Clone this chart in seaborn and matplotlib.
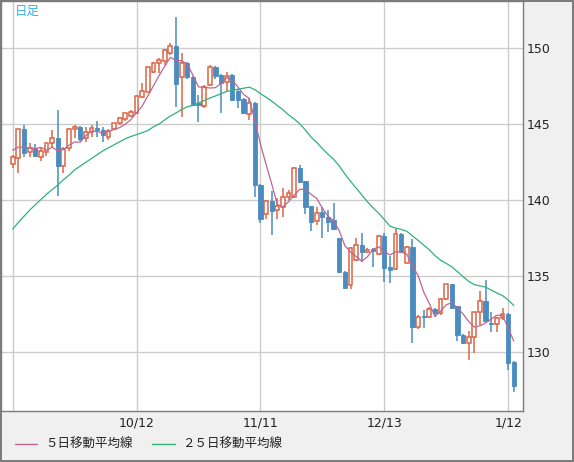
import numpy as np
import pandas as pd
import matplotlib
matplotlib.use('Agg')
import matplotlib.pyplot as plt
from matplotlib.lines import Line2D
import seaborn as sns

# daily candles, index 0 = first bar
opens = [142.37, 142.76, 144.67, 143.16, 143.46, 142.87, 143.20, 143.75, 144.08, 142.28,
         143.46, 144.67, 144.80, 144.08, 144.50, 144.75, 144.62, 144.19, 144.69, 145.11,
         145.33, 145.55, 145.77, 146.82, 147.15, 148.46, 149.01, 149.19, 149.71, 150.15,
         148.09, 149.05, 148.13, 146.38, 146.18, 147.59, 148.79, 148.24, 147.80, 148.24,
         147.20, 146.65, 145.66, 146.38, 141.01, 139.08, 139.97, 139.36, 139.58, 140.20,
         140.24, 142.11, 141.27, 139.62, 138.64, 139.25, 138.92, 138.70, 137.50, 135.30,
         134.43, 136.07, 137.06, 136.58, 136.77, 136.45, 137.65, 135.63, 135.45, 137.76,
         135.86, 136.95, 131.68, 132.39, 132.30, 132.83, 132.57, 133.49, 134.47, 133.04,
         131.14, 130.59, 130.99, 132.63, 133.39, 131.95, 131.86, 132.24, 132.52, 129.38]
highs = [143.00, 144.70, 144.95, 143.79, 143.68, 143.53, 143.79, 144.63, 145.94, 143.53,
         144.74, 144.95, 144.89, 144.84, 144.95, 145.22, 144.84, 144.67, 145.10, 145.50,
         145.77, 145.94, 146.93, 147.74, 148.79, 149.12, 149.34, 149.93, 150.33, 152.04,
         149.67, 149.12, 148.20, 146.93, 147.59, 148.90, 148.85, 148.30, 148.46, 148.30,
         147.30, 146.70, 146.75, 146.49, 141.05, 140.00, 140.63, 140.13, 140.79, 140.68,
         142.21, 142.32, 141.27, 139.62, 139.58, 139.58, 139.36, 139.84, 137.50, 135.35,
         136.95, 137.50, 137.83, 136.84, 136.84, 137.72, 137.83, 136.34, 138.09, 137.83,
         136.99, 137.43, 132.45, 132.78, 132.96, 132.90, 133.56, 134.50, 134.50, 133.04,
         131.20, 131.40, 132.63, 134.05, 134.76, 132.63, 132.35, 132.89, 132.60, 129.40]
lows = [142.14, 141.78, 142.83, 142.83, 142.87, 142.59, 142.94, 143.42, 140.30, 141.78,
        143.24, 144.12, 143.92, 143.86, 144.15, 144.18, 143.86, 143.97, 144.60, 144.95,
        145.24, 145.46, 145.68, 146.71, 147.10, 148.40, 148.40, 148.90, 149.56, 146.12,
        145.50, 148.00, 146.20, 145.15, 146.05, 147.55, 148.00, 145.72, 147.15, 146.50,
        146.10, 145.66, 145.28, 140.20, 138.50, 138.80, 137.72, 138.77, 138.92, 140.02,
        140.13, 141.12, 139.10, 138.00, 138.38, 137.50, 137.93, 138.05, 135.24, 134.15,
        134.14, 136.00, 135.96, 136.51, 135.63, 136.40, 134.64, 134.53, 135.41, 136.51,
        135.86, 130.59, 131.51, 131.58, 132.23, 132.45, 132.45, 133.45, 132.82, 130.76,
        130.55, 129.49, 129.93, 131.80, 132.08, 131.32, 131.36, 132.13, 128.84, 127.41]
closes = [142.83, 144.67, 143.09, 143.46, 142.94, 143.24, 143.75, 144.08, 142.28, 143.36,
          144.67, 144.80, 144.01, 144.47, 144.75, 144.62, 144.27, 144.58, 145.06, 145.39,
          145.72, 145.83, 146.86, 147.19, 148.75, 149.01, 149.23, 149.89, 150.15, 147.65,
          149.01, 148.09, 146.30, 146.27, 147.48, 148.79, 148.19, 147.70, 148.20, 146.60,
          146.62, 145.72, 146.38, 141.01, 138.75, 139.97, 139.30, 139.63, 140.20, 140.46,
          142.11, 141.22, 139.58, 138.59, 139.14, 138.88, 138.59, 138.09, 135.30, 134.21,
          136.84, 137.06, 136.58, 136.73, 136.66, 137.65, 135.57, 135.41, 137.76, 136.62,
          136.91, 131.68, 132.34, 132.30, 132.83, 132.57, 133.49, 134.47, 132.93, 131.14,
          130.59, 130.99, 132.63, 133.39, 132.08, 131.86, 132.24, 132.52, 129.32, 127.78]

# moving-average values before enough bars exist
ma5_head = [143.30, 143.50, 143.50, 143.45]
ma25_head = [138.10, 138.55, 138.95, 139.35, 139.70, 140.05, 140.40, 140.70, 141.00, 141.35,
             141.65, 142.00, 142.25, 142.50, 142.75, 143.00, 143.25, 143.45, 143.65, 143.85,
             144.05, 144.20, 144.32, 144.45]

tick_pos = [0, 22, 44, 66, 88]
tick_labels = ['', '10/12', '11/11', '12/13', '1/12']
price_ticks = [130, 135, 140, 145, 150]

UP = '#dc6445'
DOWN = '#4a8bc0'
MA5_C = '#bf6593'
MA25_C = '#2fb27a'
BG = '#f0f0f0'

sns.set_style('white')
plt.rcParams['font.family'] = ['Noto Sans CJK JP', 'DejaVu Sans']

df = pd.DataFrame({'open': opens, 'high': highs, 'low': lows, 'close': closes})
df['idx'] = np.arange(len(df))
df['ma5'] = df['close'].rolling(5).mean()
df.loc[:len(ma5_head) - 1, 'ma5'] = ma5_head
df['ma25'] = df['close'].rolling(25).mean()
df.loc[:len(ma25_head) - 1, 'ma25'] = ma25_head

fig = plt.figure(figsize=(5.74, 4.62), dpi=100, facecolor=BG)
fig.patch.set_edgecolor('#7c7c7c')
fig.patch.set_linewidth(1.5)
ax = fig.add_axes([1 / 574, 51 / 462, 522 / 574, 410 / 462])
ax.set_facecolor('white')

up = df['close'] >= df['open']
dn = ~up
lo = np.minimum(df['open'], df['close'])
hgt = np.maximum((df['close'] - df['open']).abs(), 0.04)

ax.vlines(df['idx'][up], df['low'][up], df['high'][up], color=UP, lw=1.1, zorder=2)
ax.vlines(df['idx'][dn], df['low'][dn], df['high'][dn], color=DOWN, lw=1.1, zorder=2)
ax.bar(df['idx'][up], hgt[up], bottom=lo[up], width=0.68, facecolor='white',
       edgecolor=UP, lw=1.1, zorder=3)
ax.bar(df['idx'][dn], hgt[dn], bottom=lo[dn], width=0.76, facecolor=DOWN,
       edgecolor=DOWN, lw=0.6, zorder=3)

sns.lineplot(data=df, x='idx', y='ma5', color=MA5_C, lw=0.9, ax=ax, zorder=4)
sns.lineplot(data=df, x='idx', y='ma25', color=MA25_C, lw=0.9, ax=ax, zorder=4)

ax.set_xlim(-2.08, 90.64)
ax.set_ylim(126.14, 153.11)
ax.set_xticks(tick_pos)
ax.set_xticklabels(tick_labels, family='DejaVu Sans')
ax.set_yticks(price_ticks)
ax.set_yticklabels([str(v) for v in price_ticks], family='DejaVu Sans')
ax.yaxis.tick_right()
ax.tick_params(axis='y', length=0, pad=3, labelsize=9, labelcolor='#222222')
ax.tick_params(axis='x', length=0, pad=4, labelsize=9, labelcolor='#222222')
ax.set_xlabel('')
ax.set_ylabel('')
ax.grid(True, color='#cccccc', lw=1.0, zorder=0)
ax.set_axisbelow(True)
for sp in ax.spines.values():
    sp.set_color('#7c7c7c')
    sp.set_linewidth(1.0)

ax.text(14 / 522, 1 - 10 / 410, '日足', transform=ax.transAxes, color='#3ab0e6',
        fontsize=9, va='center', ha='left')

# legend below the axis
ly = 1 - 444 / 462
fig.add_artist(Line2D([15 / 574, 37 / 574], [ly, ly], transform=fig.transFigure,
                      color=MA5_C, lw=1.0))
fig.text(45 / 574, ly, '５日移動平均線', va='center', ha='left', fontsize=9, color='#222222')
fig.add_artist(Line2D([152 / 574, 175 / 574], [ly, ly], transform=fig.transFigure,
                      color=MA25_C, lw=1.0))
fig.text(182 / 574, ly, '２５日移動平均線', va='center', ha='left', fontsize=9, color='#222222')

fig.savefig('out.png', dpi=100, facecolor=fig.get_facecolor(), edgecolor=fig.get_edgecolor())
